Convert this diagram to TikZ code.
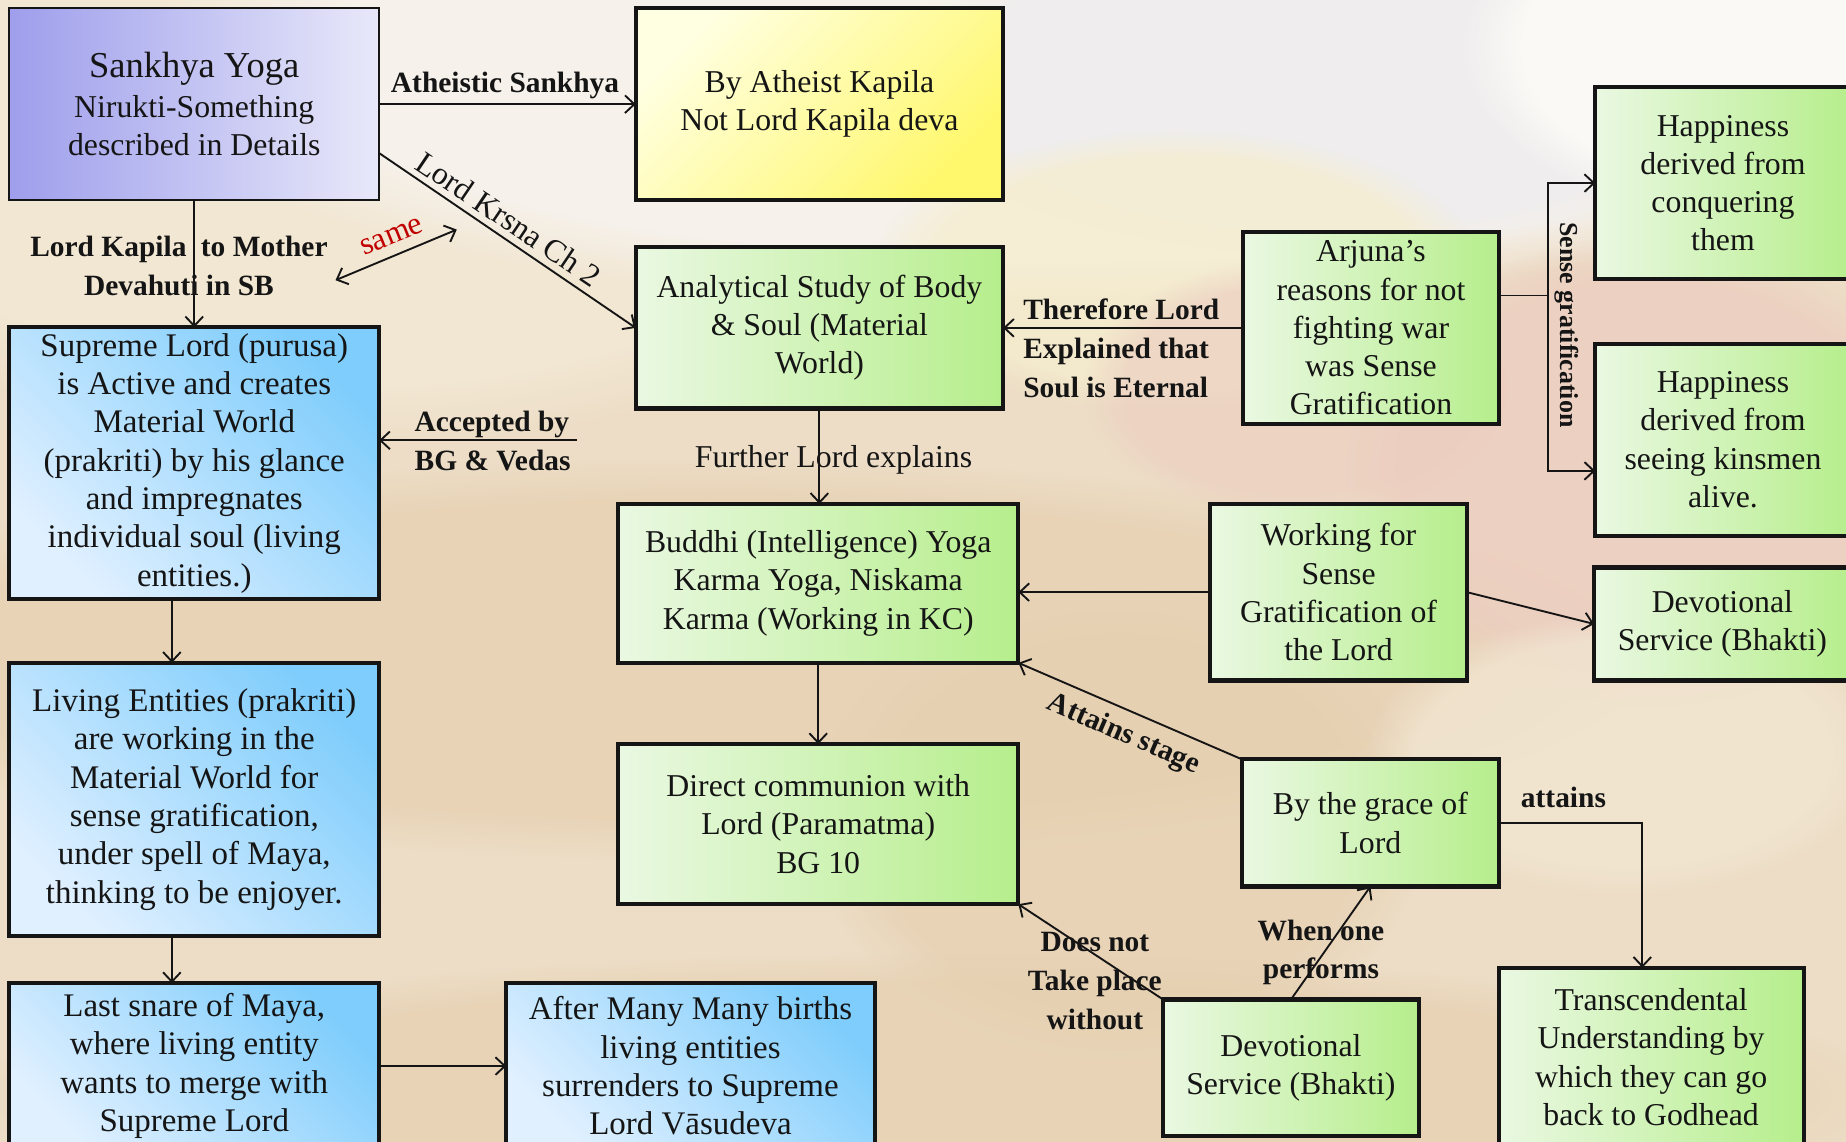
\documentclass[tikz,border=0pt]{standalone}
\usepackage{fontspec}
\setmainfont{Liberation Serif}
\usetikzlibrary{arrows.meta,fadings,calc}

% colours of the boxes
\definecolor{grnL}{HTML}{EAF8E2}
\definecolor{grnR}{HTML}{B6EE8C}
\definecolor{bluL}{HTML}{E0F0FF}
\definecolor{bluD}{HTML}{7FCDFC}
\definecolor{vioL}{HTML}{9E9EEC}
\definecolor{vioR}{HTML}{E8E8FA}
\definecolor{yelL}{HTML}{FFFFE2}
\definecolor{yelD}{HTML}{FFF86C}
\definecolor{ink}{HTML}{151515}
\definecolor{redlbl}{HTML}{C00000}
% background tones
\definecolor{bgBase}{HTML}{EDDDC6}
\definecolor{bgLight}{HTML}{F6F1EA}
\definecolor{bgCloud}{HTML}{EFEDEE}
\definecolor{bgWhite}{HTML}{FBF9F5}
\definecolor{bgCream}{HTML}{F2E7D3}
\definecolor{bgGlow}{HTML}{F5EDCF}
\definecolor{bgTan}{HTML}{E6D0B1}
\definecolor{bgPink}{HTML}{ECCDC0}

\newcommand\boxtxt{\fontsize{27}{32.5}\selectfont}
\newcommand\bluetxt{\fontsize{28}{32.6}\selectfont}
\newcommand\lbltxt{\bfseries\fontsize{25}{33}\selectfont}
\newcommand\plaintxt{\fontsize{27}{33}\selectfont}

\begin{document}
\begin{tikzpicture}[x=1pt,y=-1pt,
  box/.style={draw=ink, line width=3.5pt, inner sep=0pt, outer sep=0pt,
    align=center, text=ink, font=\boxtxt},
  gbox/.style={box, left color=grnL, right color=grnR},
  bbox/.style={box, font=\bluetxt, top color=bluD, bottom color=bluL, shading angle=-45},
  vbox/.style={box, line width=1.8pt, left color=vioL, right color=vioR},
  ybox/.style={box, top color=yelL, bottom color=yelD, shading angle=45},
  conn/.style={draw=ink, line width=1.6pt},
  arr/.style={conn, -{Straight Barb[length=8pt,width=15pt]}},
  dbl/.style={conn, {Straight Barb[length=8pt,width=15pt]}-{Straight Barb[length=8pt,width=15pt]}},
  lbl/.style={font=\lbltxt, text=ink, align=center, inner sep=0pt},
  plbl/.style={font=\plaintxt, text=ink, align=center, inner sep=0pt},
  haze/.style={path fading=circle with fuzzy edge 20 percent},
]
\useasboundingbox (0,0) rectangle (1568,970);
\clip (0,0) rectangle (1568,970);

% soft, faded backdrop
\fill[bgBase] (0,0) rectangle (1568,970);
\fill[bgCream, haze] (300,120) ellipse (520pt and 260pt);
\fill[bgLight, haze] (900,60) ellipse (800pt and 200pt);
\fill[bgCloud, haze] (1130,70) ellipse (380pt and 150pt);
\fill[bgWhite, haze] (1500,40) ellipse (260pt and 150pt);
\fill[bgGlow, haze, opacity=0.8] (1000,230) ellipse (260pt and 120pt);
\fill[bgTan, haze, opacity=0.7] (600,560) ellipse (800pt and 170pt);
\fill[bgPink, haze, opacity=0.8] (1400,400) ellipse (260pt and 200pt);
\fill[bgPink, haze, opacity=0.6] (1100,330) ellipse (180pt and 110pt);
\fill[bgTan, haze, opacity=0.7] (950,700) ellipse (260pt and 200pt);
\fill[bgTan, haze, opacity=0.7] (800,930) ellipse (820pt and 120pt);
\fill[bgCream, haze, opacity=0.7] (1380,640) ellipse (220pt and 120pt);

% boxes
\node[vbox, minimum width=314pt, minimum height=163pt] (sankhya) at (165,88.5)
  {{\fontsize{31}{34}\selectfont Sankhya Yoga}\\[1pt]Nirukti-Something\\described in Details};
\node[ybox, minimum width=312pt, minimum height=163pt] (yellow) at (696,88.5)
  {By Atheist Kapila\\Not Lord Kapila deva};
\node[gbox, minimum width=312pt, minimum height=137pt] (anal) at (696,278.5)
  {Analytical Study of Body\\\& Soul (Material\\World)};
\node[gbox, minimum width=217pt, minimum height=163pt] (arjuna) at (1164.5,278.5)
  {Arjuna’s\\reasons for not\\fighting war\\was Sense\\Gratification};
\node[gbox, minimum width=217pt, minimum height=163pt] (hap1) at (1463.5,155.5)
  {Happiness\\derived from\\conquering\\them};
\node[gbox, minimum width=217pt, minimum height=163pt] (hap2) at (1463.5,373.5)
  {Happiness\\derived from\\seeing kinsmen\\alive.};
\node[bbox, minimum width=314pt, minimum height=231pt] (supreme) at (165,393.5)
  {Supreme Lord (purusa)\\is Active and creates\\Material World\\(prakriti) by his glance\\and impregnates\\individual soul (living\\entities.)};
\node[bbox, minimum width=314pt, minimum height=232pt] (living) at (165,679)
  {Living Entities (prakriti)\\are working in the\\Material World for\\sense gratification,\\under spell of Maya,\\thinking to be enjoyer.};
\node[bbox, minimum width=314pt, minimum height=141pt] (snare) at (165,905.5)
  {Last snare of Maya,\\where living entity\\wants to merge with\\Supreme Lord};
\node[bbox, minimum width=313pt, minimum height=141pt] (after) at (586.5,905.5)
  {After Many Many births\\living entities\\surrenders to Supreme\\Lord Vāsudeva};
\node[gbox, minimum width=340pt, minimum height=135pt] (buddhi) at (695,495.5)
  {Buddhi (Intelligence) Yoga\\Karma Yoga, Niskama\\Karma (Working in KC)};
\node[gbox, minimum width=340pt, minimum height=136pt] (direct) at (695,700)
  {Direct communion with\\Lord (Paramatma)\\BG 10};
\node[gbox, minimum width=218pt, minimum height=150pt] (working) at (1137,503)
  {Working for\\Sense\\Gratification of\\the Lord};
\node[gbox, minimum width=218pt, minimum height=96pt] (dev1) at (1463,530)
  {Devotional\\Service (Bhakti)};
\node[gbox, minimum width=218pt, minimum height=108pt] (grace) at (1164,699)
  {By the grace of\\Lord};
\node[gbox, minimum width=217pt, minimum height=116pt] (dev2) at (1096.5,907)
  {Devotional\\Service (Bhakti)};
\node[gbox, minimum width=259pt, minimum height=152pt] (trans) at (1402.5,898)
  {Transcendental\\Understanding by\\which they can go\\back to Godhead};

% connectors
\draw[arr] (sankhya.east) -- (yellow.west);
\node[lbl] at (429,73) {Atheistic Sankhya};

\draw[arr] ([yshift=-41.5pt]sankhya.east) -- (anal.west);
\node[plbl, rotate=-34] at (432,186) {Lord Krsna Ch 2};

\draw[arr] (sankhya.south) -- (supreme.north);
\node[lbl] at (152,226) {Lord Kapila\hspace{6pt} to Mother\\Devahuti in SB};

\coordinate (sameA) at (285,238);
\coordinate (sameB) at (388,195);
\draw[dbl] (sameA) -- (sameB);
\node[font=\fontsize{27}{29}\selectfont, text=redlbl, rotate=22, inner sep=0pt] at (333,201) {same};

\draw[arr] (arjuna.west) -- (anal.east);
\node[lbl, anchor=west, align=left] at (869,296) {Therefore Lord\\Explained that\\Soul is Eternal};

\coordinate (fork) at (1315,251);
\draw[conn] ([yshift=27.5pt]arjuna.east) -- (fork);
\draw[arr] (fork) |- (hap1.west);
\draw[arr] (fork) |- ([yshift=-26.5pt]hap2.west);
\node[lbl, font=\bfseries\fontsize{22}{24}\selectfont, rotate=-90] at (1331,276) {Sense gratification};

\coordinate (acc) at (490,374);
\draw[arr] (acc) -- (acc -| supreme.east);
\node[lbl, anchor=west, align=left] at (352,374.5) {Accepted by\\BG \& Vedas};

\draw[arr] (anal.south) -- (anal.south |- buddhi.north);
\node[plbl] at (708,391) {Further Lord explains};

\draw[arr] ([xshift=-19pt]supreme.south) -- ([xshift=-19pt]living.north);
\draw[arr] ([xshift=-19pt]living.south) -- ([xshift=-19pt]snare.north);
\draw[arr] (snare.east) -- (after.west);

\draw[arr] (buddhi.south) -- (direct.north);
\draw[arr] (working.west) -- (working.west -| buddhi.east);
\draw[arr] (working.east) -- (dev1.west);

\draw[arr] (grace.north west) -- (buddhi.south east);
\node[lbl, rotate=-23.3] at (954,624) {Attains stage};

\draw[arr] (dev2.north west) -- (direct.south east);
\node[lbl] at (930,833) {Does not\\Take place\\without};

\draw[arr] (dev2.north) -- (grace.south);
\node[lbl] at (1122,809) {When one\\performs};

\draw[arr] (grace.east) -| ([xshift=-7.5pt]trans.north);
\node[lbl] at (1328,677) {attains};
\end{tikzpicture}
\end{document}
